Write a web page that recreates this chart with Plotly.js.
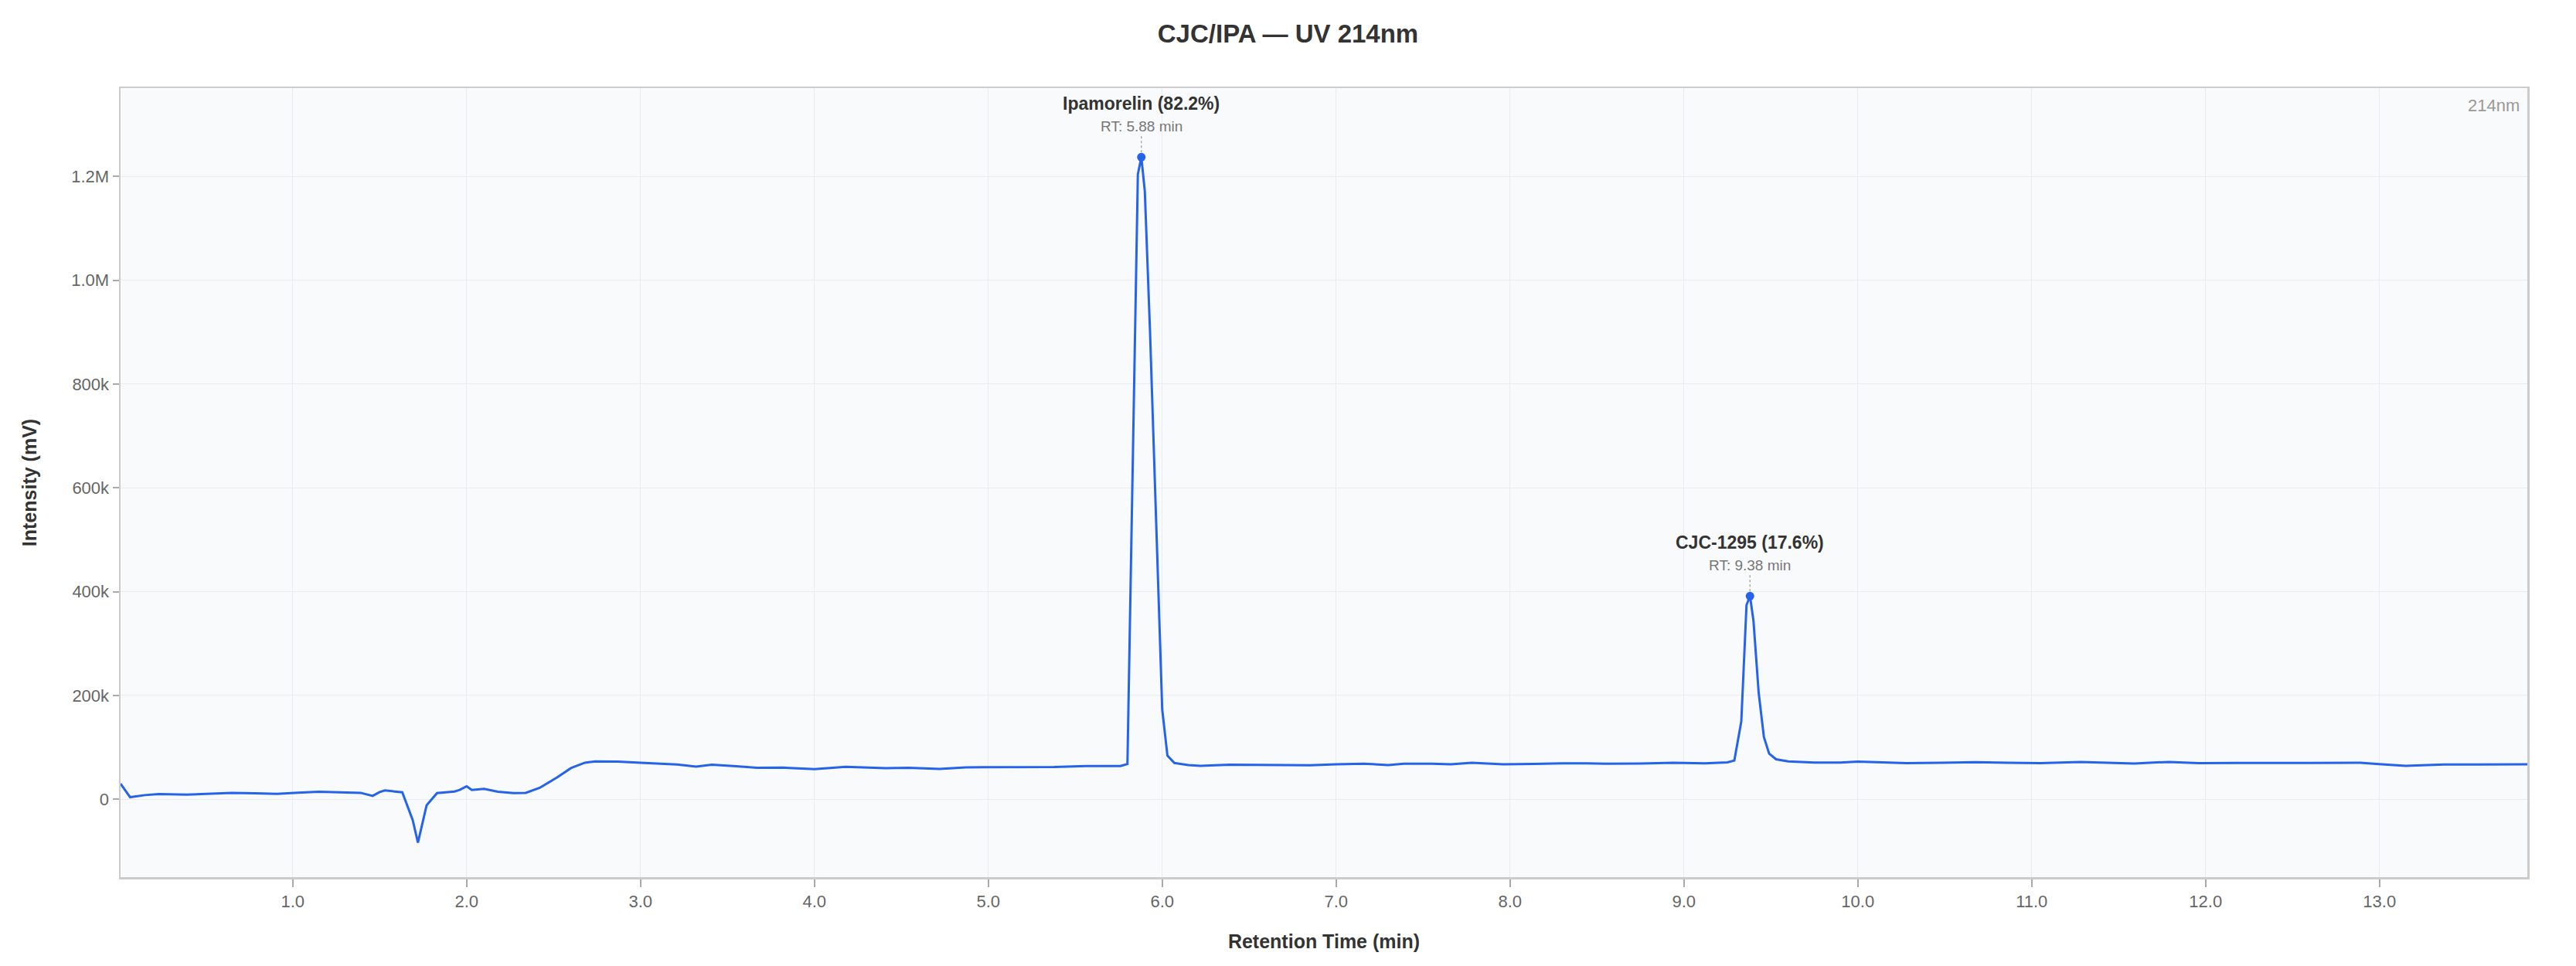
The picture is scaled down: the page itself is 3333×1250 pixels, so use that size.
<!DOCTYPE html>
<html>
<head>
<meta charset="utf-8">
<script src="https://cdn.plot.ly/plotly-3.0.1.min.js"></script>
<style>
  html, body { margin: 0; padding: 0; background: #fff; }
  #chart { width: 3333px; height: 1250px; }
</style>
</head>
<body>
<div id="chart"></div>
<script>
'use strict';

// chromatogram (min, mV)
var retentionTime = [
  0.01, 0.065, 0.15, 0.23, 0.39, 0.52, 0.65, 0.78, 0.91, 1.03,
  1.15, 1.27, 1.39, 1.46, 1.50, 1.53, 1.63, 1.69, 1.72, 1.77,
  1.83, 1.93, 1.96, 2.00, 2.03, 2.10, 2.18, 2.27, 2.34, 2.42,
  2.49, 2.52, 2.60, 2.68, 2.74, 2.80, 2.87, 3.00, 3.10, 3.21,
  3.32, 3.41, 3.55, 3.67, 3.82, 4.00, 4.18, 4.30, 4.41, 4.54,
  4.72, 4.87, 5.05, 5.20, 5.38, 5.56, 5.76, 5.80, 5.86, 5.88,
  5.90, 5.93, 5.97, 6.00, 6.03, 6.07, 6.15, 6.22, 6.39, 6.60,
  6.69, 6.78, 6.85, 7.00, 7.16, 7.30, 7.39, 7.55, 7.66, 7.78,
  7.96, 8.14, 8.30, 8.44, 8.55, 8.75, 8.94, 9.12, 9.25, 9.29,
  9.33, 9.36, 9.38, 9.40, 9.43, 9.46, 9.49, 9.53, 9.60, 9.75,
  9.90, 10.00, 10.14, 10.28, 10.48, 10.68, 10.86, 11.05, 11.28, 11.45,
  11.59, 11.79, 11.96, 12.18, 12.38, 12.60, 12.89, 12.98, 13.15, 13.37,
  13.57, 13.85
];
var intensity = [
  30000, 4000, 8000, 10000, 9000, 11000, 12400, 11500, 10400, 12500,
  14400, 13500, 12400, 6500, 14000, 17000, 13400, -40000, -83500, -11400,
  12000, 15000, 18000, 25000, 18000, 20000, 14400, 12000, 12400, 22000,
  36000, 42000, 60000, 70500, 73000, 73000, 72500, 70400, 69000, 67000,
  63000, 66500, 63500, 60500, 61000, 58000, 62500, 61000, 60000, 60500,
  58500, 61500, 61500, 61500, 62000, 64000, 64000, 68000, 1204000, 1237000,
  1171000, 900000, 470000, 173000, 84000, 70000, 66000, 64500, 66500, 66500,
  65500, 66500, 65500, 67500, 68500, 66000, 68500, 68500, 67500, 70400,
  67500, 68000, 69400, 69400, 68500, 69000, 70400, 69400, 71000, 74600,
  150000, 374000, 391500, 344000, 205000, 120000, 88000, 77000, 73000, 70600,
  70600, 72500, 71500, 69500, 70500, 71500, 70500, 69500, 72000, 70500,
  69000, 72000, 69500, 70000, 69500, 70000, 70500, 68000, 64500, 67000,
  67000, 67500
];

var peakNames = ['Ipamorelin', 'CJC-1295'];
var peakRT = [5.88, 9.38];
var peakPct = [82.2, 17.6];

var yTickVals = [0, 200000, 400000, 600000, 800000, 1000000, 1200000];
var yTickText = ['0', '200k', '400k', '600k', '800k', '1.0M', '1.2M'];
var xTickVals = [1, 2, 3, 4, 5, 6, 7, 8, 9, 10, 11, 12, 13];

var BLUE = '#2563eb';
var FONT = 'Liberation Sans, Arial, sans-serif';

// peak heights come from the trace itself
var peakY = peakRT.map(function (rt) {
  var i = retentionTime.indexOf(rt);
  return intensity[i];
});

var traces = [
  {
    x: retentionTime, y: intensity,
    mode: 'lines', type: 'scatter',
    line: { color: BLUE, width: 3 },
    hoverinfo: 'x+y', showlegend: false
  },
  {
    x: peakRT, y: peakY,
    mode: 'markers', type: 'scatter',
    marker: { color: BLUE, size: 11 },
    showlegend: false
  }
];

var annotations = [];
var shapes = [];
peakRT.forEach(function (rt, i) {
  annotations.push({
    x: rt, y: peakY[i], xref: 'x', yref: 'y',
    text: '<b>' + peakNames[i] + ' (' + peakPct[i].toFixed(1) + '%)</b>',
    showarrow: false, yshift: 69, xanchor: 'center', yanchor: 'middle',
    font: { family: FONT, size: 23, color: '#333333' }
  });
  annotations.push({
    x: rt, y: peakY[i], xref: 'x', yref: 'y',
    text: 'RT: ' + rt.toFixed(2) + ' min',
    showarrow: false, yshift: 40, xanchor: 'center', yanchor: 'middle',
    font: { family: FONT, size: 19, color: '#777777' }
  });
  shapes.push({
    type: 'line', xref: 'x', yref: 'y',
    ysizemode: 'pixel', yanchor: peakY[i],
    x0: rt, x1: rt, y0: 6, y1: 30,
    line: { color: '#aaaaaa', width: 1.5, dash: '3px,3px' }
  });
});

annotations.push({
  xref: 'paper', yref: 'paper', x: 1, y: 1,
  xanchor: 'right', yanchor: 'top', xshift: -8, yshift: -8,
  text: '214nm', showarrow: false,
  font: { family: FONT, size: 22, color: '#999999' }
});

var layout = {
  width: 3333, height: 1250,
  margin: { l: 156, r: 63, t: 114, b: 115 },
  paper_bgcolor: '#ffffff',
  plot_bgcolor: '#f9fafb',
  font: { family: FONT, color: '#666666' },
  title: {
    text: '<b>CJC/IPA — UV 214nm</b>',
    font: { family: FONT, size: 33, color: '#333333' },
    x: 0.5, xanchor: 'center',
    yref: 'container', y: 1 - 43 / 1250, yanchor: 'middle'
  },
  xaxis: {
    range: [0.01, 13.85],
    tickvals: xTickVals, tickformat: '.1f',
    ticks: 'outside', ticklen: 10, tickwidth: 2, tickcolor: '#aaaaaa',
    tickfont: { family: FONT, size: 22, color: '#666666' },
    showgrid: true, gridcolor: '#eaecef', gridwidth: 1,
    zeroline: false,
    showline: true, linecolor: '#cccccc', linewidth: 2.5, mirror: true,
    title: {
      text: '<b>Retention Time (min)</b>',
      font: { family: FONT, size: 25, color: '#333333' },
      standoff: 32
    }
  },
  yaxis: {
    range: [-150000, 1370000],
    tickvals: yTickVals, ticktext: yTickText,
    ticks: 'outside', ticklen: 8, tickwidth: 2, tickcolor: '#aaaaaa',
    tickfont: { family: FONT, size: 22, color: '#666666' },
    showgrid: true, gridcolor: '#eaecef', gridwidth: 1,
    zeroline: false,
    showline: true, linecolor: '#cccccc', linewidth: 2.5, mirror: true,
    title: {
      text: '<b>Intensity (mV)</b>',
      font: { family: FONT, size: 25, color: '#333333' },
      standoff: 38
    }
  },
  annotations: annotations,
  shapes: shapes
};

Plotly.newPlot('chart', traces, layout, { displayModeBar: false, staticPlot: true });
</script>
</body>
</html>
